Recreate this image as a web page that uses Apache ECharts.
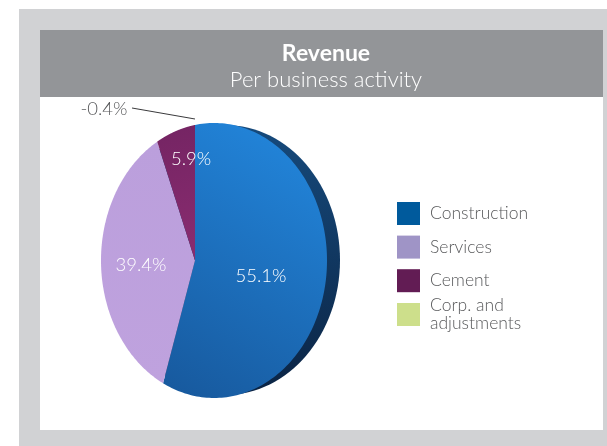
<!DOCTYPE html>
<html><head><meta charset="utf-8">
<style>html,body{margin:0;padding:0;background:#fff}#c{width:607px;height:446px}</style>
<script src="https://cdn.jsdelivr.net/npm/echarts@6/dist/echarts.min.js"></script>
</head><body><div id="c"></div>
<script>
const categories = ['Construction', 'Services', 'Cement', 'Corp. and\nadjustments'];
const shareValues = [55.1, 39.4, 5.9, -0.4];
const valueLabels = ['55.1%', '39.4%', '5.9%', '-0.4%'];
const titleLines = ['Revenue', 'Per business activity'];

const FONT = 'Lato';
const legendColors = ['#005a9c', '#9f94c6', '#621c54', '#cddf8b'];
const E = {cx: 214, cy: 260.5, rx: 113, ry: 137.5, ax: 195, ay: 260.5};
const fills = [
  {x: 0, y: 1, x2: 1, y2: 0, stops: ['#17589c', '#2389e0']},
  {x: 0, y: 0, x2: 0, y2: 1, stops: ['#bb9fdc', '#bfa2de']},
  {x: 0, y: 0, x2: 1, y2: 1, stops: ['#742463', '#8a2c70']}
];
const labelPos = [[261, 276], [141, 265], [191, 159], [104, 109]];
const total = shareValues.filter(v => v > 0).reduce((a, b) => a + b, 0);
const startOf = i => shareValues.slice(0, i).filter(v => v > 0).reduce((a, b) => a + b, 0);

function rim(frac) {
  const t = frac * 2 * Math.PI;
  const dx = Math.sin(t) * E.rx, dy = -Math.cos(t) * E.ry;
  const ox = E.ax - E.cx, oy = E.ay - E.cy;
  const a = dx * dx / (E.rx * E.rx) + dy * dy / (E.ry * E.ry);
  const b = 2 * (ox * dx / (E.rx * E.rx) + oy * dy / (E.ry * E.ry));
  const c = ox * ox / (E.rx * E.rx) + oy * oy / (E.ry * E.ry) - 1;
  const s = (-b + Math.sqrt(b * b - 4 * a * c)) / (2 * a);
  return [E.ax + dx * s, E.ay + dy * s];
}
function renderSlice(i) {
  return function () {
    const kids = [];
    const v = shareValues[i];
    if (v > 0) {
      const f0 = startOf(i) / total, f1 = (startOf(i) + v) / total;
      const pts = [[E.ax, E.ay]];
      for (let k = 0; k <= 160; k++) pts.push(rim(f0 + (f1 - f0) * k / 160));
      const g = fills[i];
      kids.push({type: 'polygon', shape: {points: pts}, style: {
        fill: new echarts.graphic.LinearGradient(g.x, g.y, g.x2, g.y2, [
          {offset: 0, color: g.stops[0]}, {offset: 1, color: g.stops[1]}])
      }});
      kids.push({type: 'text', z2: 5, style: {x: labelPos[i][0], y: labelPos[i][1], text: valueLabels[i],
        fill: '#fff', font: '300 18.5px ' + FONT, align: 'center', verticalAlign: 'middle'}});
    } else {
      kids.push({type: 'line', shape: {x1: 132, y1: 108, x2: 195, y2: 119},
        style: {stroke: '#3a3a3c', lineWidth: 1}});
      kids.push({type: 'text', style: {x: labelPos[i][0], y: labelPos[i][1], text: valueLabels[i],
        fill: '#58595b', font: '300 18.5px ' + FONT, align: 'center', verticalAlign: 'middle'}});
    }
    return {type: 'group', children: kids};
  };
}
const series = categories.map((name, i) => ({
  type: 'custom', name, coordinateSystem: 'none', silent: true, z: 3 + i,
  itemStyle: {color: legendColors[i]},
  data: [[shareValues[i]]],
  renderItem: renderSlice(i)
}));
const legendBase = {
  left: 397, padding: 0, orient: 'vertical', itemWidth: 23, itemHeight: 23, itemGap: 10.6,
  icon: 'rect', selectedMode: false,
  textStyle: {fontFamily: FONT, fontWeight: 300, fontSize: 17.5, color: '#58595b', lineHeight: 18, padding: [0, 0, 0, 5]}
};

const chart = echarts.init(document.getElementById('c'), null, {renderer: 'canvas'});
chart.setOption({
  animation: false,
  backgroundColor: '#fff',
  graphic: [
    {type: 'rect', z: 0, shape: {x: 19, y: 9, width: 588, height: 437}, style: {fill: '#d1d2d4'}},
    {type: 'rect', z: 0, shape: {x: 40, y: 30, width: 563, height: 400}, style: {fill: '#fff'}},
    {type: 'rect', z: 0, shape: {x: 40, y: 30, width: 563, height: 67}, style: {fill: '#939598'}},
    {type: 'ellipse', z: 1, shape: {cx: 225, cy: 260, rx: 115, ry: 135},
      style: {fill: new echarts.graphic.LinearGradient(0, 0, 0, 1, [
        {offset: 0, color: '#164a7c'}, {offset: 1, color: '#0b2444'}])}}
  ],
  title: {
    left: 326, top: 41, padding: 0, textAlign: 'center',
    text: '{a|' + titleLines[0] + '}\n{b|' + titleLines[1] + '}',
    textStyle: {rich: {
      a: {fontFamily: FONT, fontWeight: 700, fontSize: 23, color: '#fff', lineHeight: 26, align: 'center'},
      b: {fontFamily: FONT, fontWeight: 300, fontSize: 22, color: '#fff', lineHeight: 26, align: 'center'}
    }}
  },
  legend: [
    Object.assign({}, legendBase, {top: 202, data: categories.slice(0, 3)}),
    Object.assign({}, legendBase, {top: 296.5, data: categories.slice(3)})
  ],
  series
});
</script></body></html>
